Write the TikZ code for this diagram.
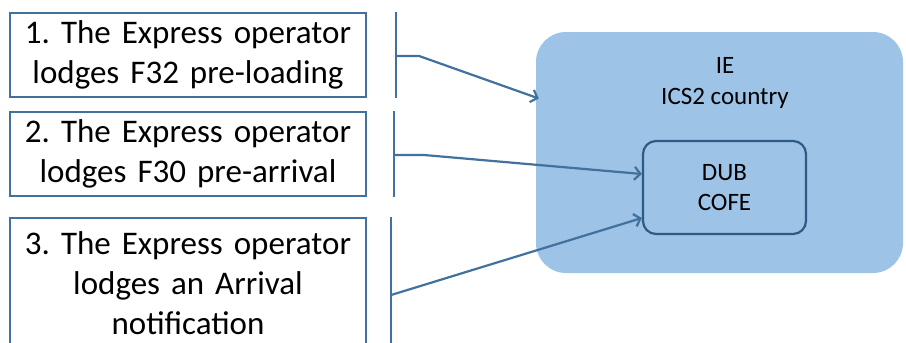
\documentclass[tikz,border=0pt]{standalone}
\usepackage{fontspec}
\setmainfont{Carlito}
\frenchspacing
\usetikzlibrary{arrows.meta}
\definecolor{boxblue}{HTML}{41719C}
\definecolor{iefill}{HTML}{9DC3E6}
\definecolor{cofeline}{HTML}{2E5B86}
\begin{document}
\begin{tikzpicture}[x=1pt,y=1pt,
        msgbox/.style={draw=boxblue, line width=2.2pt, minimum width=356pt, text width=350pt,
            align=center, inner sep=0pt, font=\fontsize{33}{40}\selectfont},
        link/.style={boxblue, line width=2.2pt},
        tip/.style={-{Straight Barb[length=6pt,width=13pt]}},
        inlabel/.style={align=center, inner sep=0pt, font=\fontsize{25}{30.5}\selectfont}]
    \useasboundingbox (0,0) rectangle (906,-343);
    % IE country and the office inside it
    \node[fill=iefill, rounded corners=30pt, minimum width=367pt, minimum height=241pt] (ie) at (719.5,-152.5) {};
    \node[inlabel] (ietext) at (725,-83) {IE\\ICS2 country};
    \node[draw=cofeline, line width=2.2pt, rounded corners=13pt, minimum width=163pt, minimum height=93pt,
        inlabel, font=\fontsize{25}{30}\selectfont] (cofe) at (724.5,-187.5) {DUB\\COFE};
    % the three messages
    \node[msgbox, minimum height=84pt] (msg1) at (188,-55) {1. The Express operator\\lodges F32 pre-loading};
    \node[msgbox, minimum height=84pt] (msg2) at (188,-154) {2. The Express operator\\lodges F30 pre-arrival};
    \node[msgbox, minimum height=130pt] (msg3) at (188,-283) {3. The Express operator\\lodges an Arrival\\notification};
    % brackets
    \draw[link] ([xshift=29pt]msg1.north east) -- ([xshift=29pt]msg1.south east);
    \coordinate (j1) at ([xshift=29pt,yshift=-1pt]msg1.east);
    \draw[link,tip] (j1) -- ++(23,0) -- ([xshift=3pt,yshift=54pt]ie.west);
    \draw[link] ([xshift=27pt]msg2.north east) -- ([xshift=27pt]msg2.south east);
    \coordinate (j2) at ([xshift=27pt,yshift=-1pt]msg2.east);
    \draw[link,tip] (j2) -- ++(30,0) -- ([yshift=13.5pt]cofe.west);
    \draw[link] ([xshift=24pt]msg3.north east) -- ([xshift=24pt]msg3.south east);
    \coordinate (j3) at ([xshift=24pt,yshift=-12pt]msg3.east);
    \draw[link,tip] (j3) -- ([yshift=-30.5pt]cofe.west);
\end{tikzpicture}
\end{document}
